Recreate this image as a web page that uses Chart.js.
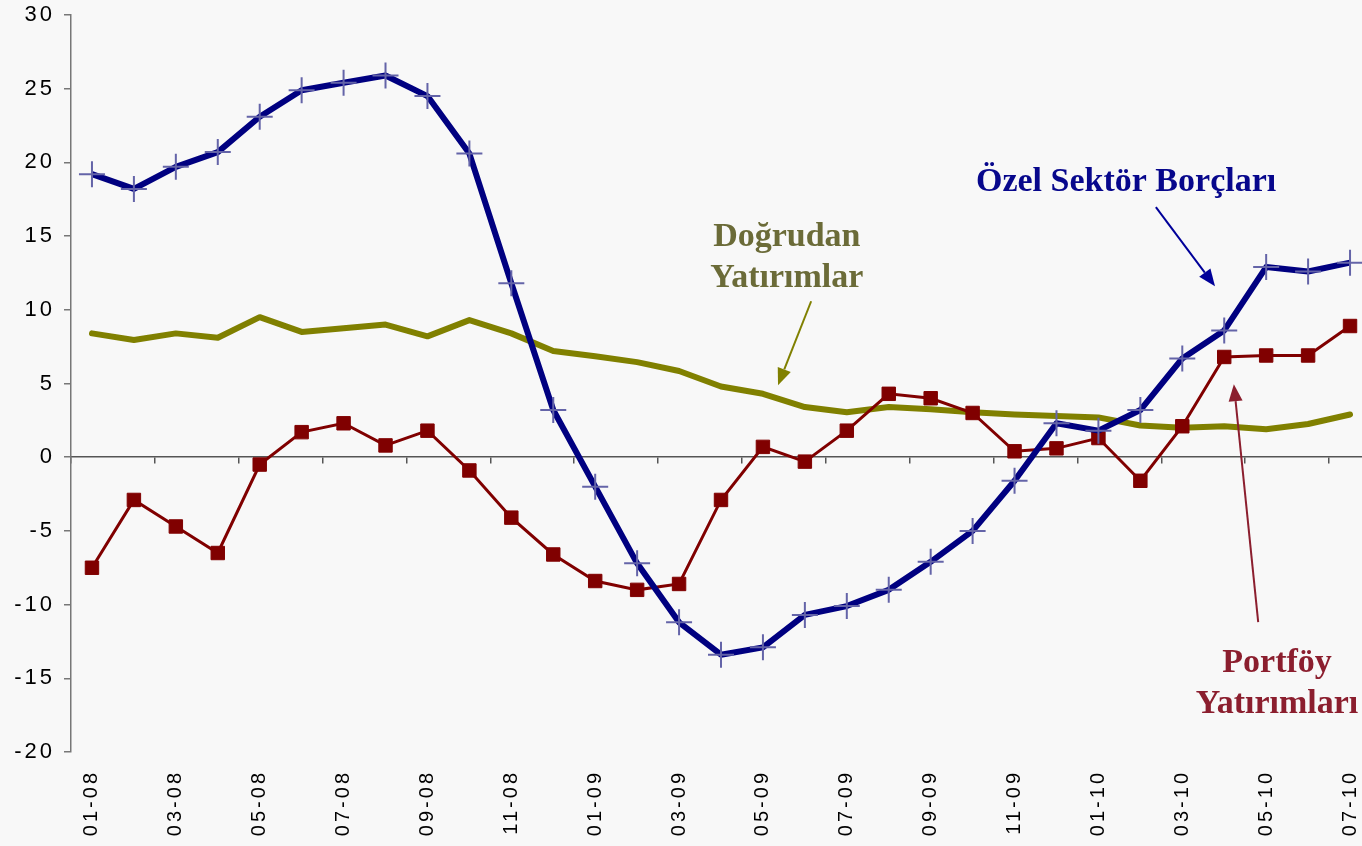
<!DOCTYPE html>
<html>
<head>
<meta charset="utf-8">
<script src="https://cdn.jsdelivr.net/npm/chart.js@4"></script>
<style>
    html, body {
        margin: 0;
        padding: 0;
        background: #f8f8f8;
        overflow: hidden;
    }
    .chart-wrap {
        position: relative;
        width: 1372px;
        height: 846px;
    }
</style>
</head>
<body>
<div class="chart-wrap">
    <canvas id="flows"></canvas>
</div>
<script>
const months = [
    '01-08', '02-08', '03-08', '04-08', '05-08', '06-08', '07-08', '08-08', '09-08', '10-08', '11-08', '12-08',
    '01-09', '02-09', '03-09', '04-09', '05-09', '06-09', '07-09', '08-09', '09-09', '10-09', '11-09', '12-09',
    '01-10', '02-10', '03-10', '04-10', '05-10', '06-10', '07-10',
];

const ozelSektor = [
    19.2, 18.2, 19.7, 20.7, 23.1, 24.9, 25.4, 25.9, 24.5, 20.6, 11.8, 3.2,
    -2.0, -7.2, -11.2, -13.4, -12.9, -10.7, -10.1, -9.0, -7.1, -5.0, -1.6, 2.3,
    1.8, 3.2, 6.7, 8.6, 12.9, 12.6, 13.2,
];

const portfoy = [
    -7.5, -2.9, -4.7, -6.5, -0.5, 1.7, 2.3, 0.8, 1.8, -0.9, -4.1, -6.6,
    -8.4, -9.0, -8.6, -2.9, 0.7, -0.3, 1.8, 4.3, 4.0, 3.0, 0.4, 0.6,
    1.3, -1.6, 2.1, 6.8, 6.9, 6.9, 8.9,
];

const dogrudan = [
    8.4, 7.95, 8.4, 8.1, 9.5, 8.5, 8.75, 9.0, 8.2, 9.3, 8.4, 7.2,
    6.85, 6.45, 5.85, 4.8, 4.3, 3.4, 3.05, 3.4, 3.25, 3.05, 2.9, 2.8,
    2.7, 2.15, 2.0, 2.1, 1.9, 2.25, 2.9,
];

const yMin = -20;
const yMax = 30;
const yStep = 5;

// text labels with arrows, placed in data units (category index, value)
const callouts = [
    {
        lines: ['Özel Sektör Borçları'],
        at: [24.66, 18.05],
        color: '#07078c',
        arrow: { from: [25.37, 16.96], to: [26.78, 11.6], color: '#000099' },
    },
    {
        lines: ['Doğrudan', 'Yatırımlar'],
        at: [16.57, 14.31],
        color: '#6b6b38',
        arrow: { from: [17.15, 10.58], to: [16.36, 4.88], color: '#808000' },
    },
    {
        lines: ['Portföy', 'Yatırımları'],
        at: [28.26, -14.59],
        color: '#8b1e2e',
        arrow: { from: [27.81, -11.19], to: [27.23, 4.95], color: '#8b1e2e' },
    },
];

// axis labels are spaced wider than plain Arial
const tracking = {
    id: 'tracking',
    beforeLayout(chart) {
        chart.ctx.letterSpacing = '3px';
    },
    beforeDraw(chart) {
        chart.ctx.letterSpacing = '3px';
    },
};

const calloutPlugin = {
    id: 'callouts',
    afterDatasetsDraw(chart) {
        const ctx = chart.ctx;
        const xs = chart.scales.x;
        const ys = chart.scales.y;
        ctx.save();
        ctx.letterSpacing = '0px';
        callouts.forEach((c) => {
            // arrow shaft plus filled head
            const x1 = xs.getPixelForValue(c.arrow.from[0]);
            const y1 = ys.getPixelForValue(c.arrow.from[1]);
            const x2 = xs.getPixelForValue(c.arrow.to[0]);
            const y2 = ys.getPixelForValue(c.arrow.to[1]);
            const ang = Math.atan2(y2 - y1, x2 - x1);
            const headLen = 17;
            const headW = 7;
            ctx.strokeStyle = c.arrow.color;
            ctx.fillStyle = c.arrow.color;
            ctx.lineWidth = 2;
            ctx.beginPath();
            ctx.moveTo(x1, y1);
            ctx.lineTo(x2 - Math.cos(ang) * headLen, y2 - Math.sin(ang) * headLen);
            ctx.stroke();
            ctx.beginPath();
            ctx.moveTo(x2, y2);
            ctx.lineTo(
                x2 - Math.cos(ang) * headLen - Math.sin(ang) * headW,
                y2 - Math.sin(ang) * headLen + Math.cos(ang) * headW
            );
            ctx.lineTo(
                x2 - Math.cos(ang) * headLen + Math.sin(ang) * headW,
                y2 - Math.sin(ang) * headLen - Math.cos(ang) * headW
            );
            ctx.closePath();
            ctx.fill();

            ctx.font = 'bold 34px "Liberation Serif", "Times New Roman", serif';
            ctx.textAlign = 'center';
            ctx.textBaseline = 'alphabetic';
            ctx.fillStyle = c.color;
            const tx = xs.getPixelForValue(c.at[0]);
            const ty = ys.getPixelForValue(c.at[1]);
            c.lines.forEach((line, i) => {
                ctx.fillText(line, tx, ty + i * 41);
            });
        });
        ctx.restore();
    },
};

Chart.defaults.font.family = '"Liberation Sans", Arial, sans-serif';
Chart.defaults.color = '#000';

new Chart(document.getElementById('flows'), {
    type: 'line',
    data: {
        labels: months,
        datasets: [
            {
                label: 'Özel Sektör Borçları',
                data: ozelSektor,
                xAxisID: 'x',
                borderColor: '#000080',
                borderWidth: 6,
                tension: 0,
                borderJoinStyle: 'round',
                pointStyle: 'cross',
                pointRadius: 13,
                pointBorderWidth: 2,
                pointBorderColor: '#6464a8',
                pointBackgroundColor: '#6464a8',
            },
            {
                label: 'Portföy Yatırımları',
                data: portfoy,
                xAxisID: 'x',
                borderColor: '#800000',
                borderWidth: 3,
                tension: 0,
                pointStyle: 'rect',
                pointRadius: 9.5,
                pointBorderWidth: 1,
                pointBorderColor: '#800000',
                pointBackgroundColor: '#800000',
            },
            {
                label: 'Doğrudan Yatırımlar',
                data: dogrudan,
                xAxisID: 'x',
                borderColor: '#808000',
                borderWidth: 6,
                tension: 0,
                borderJoinStyle: 'round',
                borderCapStyle: 'round',
                pointRadius: 0,
            },
        ],
    },
    options: {
        responsive: true,
        maintainAspectRatio: false,
        animation: false,
        layout: {
            autoPadding: false,
            padding: { top: 15, right: 1, left: 0, bottom: 0 },
        },
        plugins: {
            legend: { display: false },
            tooltip: { enabled: false },
        },
        scales: {
            x: {
                type: 'category',
                offset: true,
                border: { display: false },
                grid: { display: false, drawTicks: false },
                ticks: {
                    autoSkip: false,
                    minRotation: 90,
                    maxRotation: 90,
                    padding: 18,
                    font: { size: 20 },
                    callback: (v, i) => (i % 2 === 0 ? months[i] : ''),
                },
                afterFit: (scale) => {
                    scale.height = 94;
                    scale.paddingLeft = 0;
                    scale.paddingRight = 0;
                },
            },
            // axis line at zero carrying the tick marks
            x0: {
                type: 'category',
                position: { y: 0 },
                offset: true,
                border: { display: true, color: '#555', width: 1.5 },
                grid: {
                    offset: true,
                    drawOnChartArea: false,
                    tickLength: 6,
                    lineWidth: 1.5,
                    color: (c) => (c.index % 2 === 0 ? '#555' : 'rgba(0,0,0,0)'),
                },
                ticks: { display: false, autoSkip: false },
                afterFit: (scale) => {
                    scale.paddingLeft = 0;
                    scale.paddingRight = 0;
                },
            },
            y: {
                min: yMin,
                max: yMax,
                border: { display: true, color: '#777', width: 1.5 },
                grid: { drawOnChartArea: false, tickLength: 7, color: '#777', lineWidth: 1.5 },
                ticks: {
                    stepSize: yStep,
                    padding: 9,
                    font: { size: 22 },
                },
                afterFit: (scale) => {
                    scale.width = 71;
                    scale.paddingTop = 0;
                    scale.paddingBottom = 0;
                },
            },
        },
    },
    plugins: [tracking, calloutPlugin],
});
</script>
</body>
</html>
